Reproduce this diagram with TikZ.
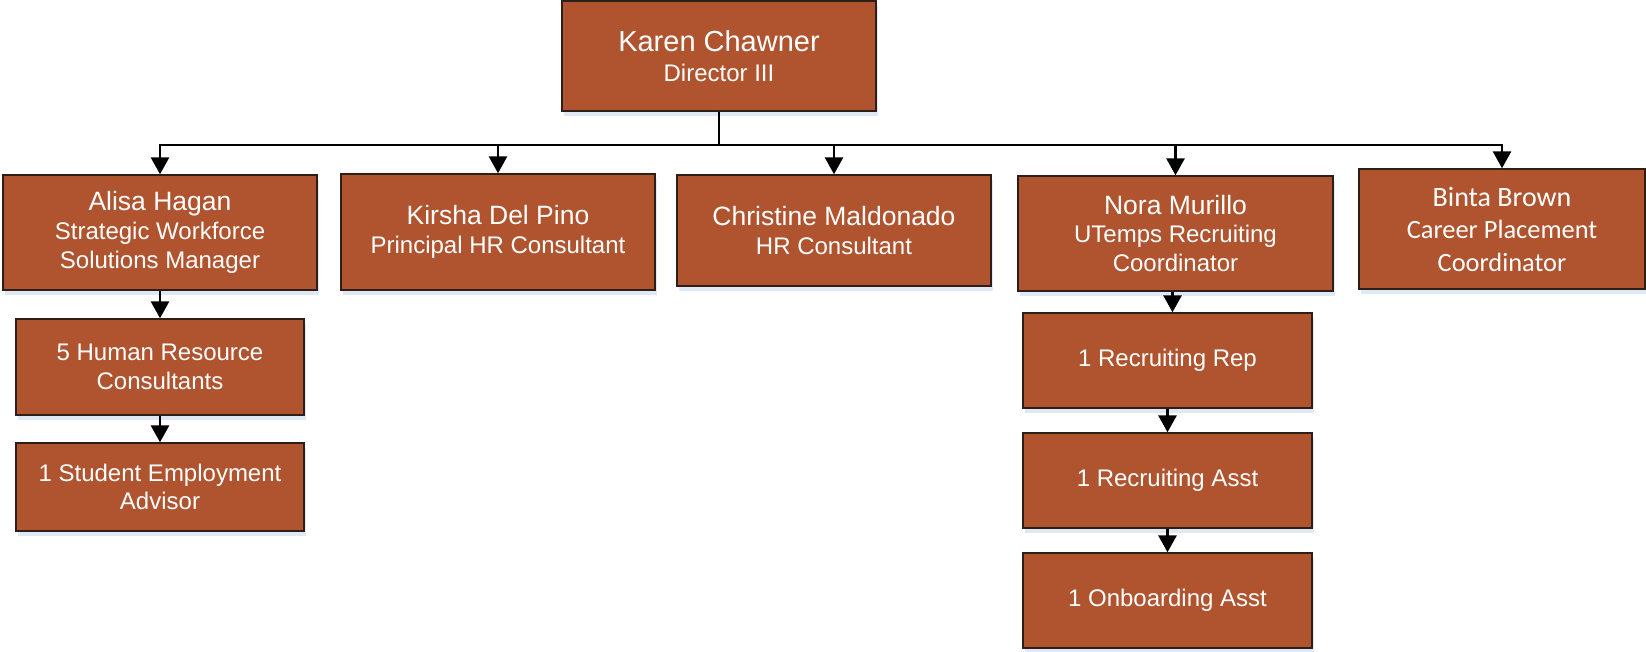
\documentclass[tikz,border=0pt]{standalone}
\usepackage{fontspec}
\setmainfont{Liberation Sans}
\newfontfamily\calibri{Carlito}
\usetikzlibrary{arrows.meta,shadows}
\definecolor{rust}{RGB}{176,84,48}
\definecolor{rustline}{RGB}{45,30,25}
\definecolor{glow}{RGB}{196,214,236}
\tikzset{
  box/.style={draw=rustline, line width=1.4pt, fill=rust, text=white, inner sep=0pt,
    align=center, font=\fontsize{24}{28.7}\selectfont,
    drop shadow={shadow xshift=2pt, shadow yshift=-5pt, fill=glow, opacity=0.55}},
  conn/.style={line width=2.9pt, black},
  arr/.style={conn, -{Triangle[length=17pt,width=18pt]}}
}
\newcommand{\bigname}[1]{{\fontsize{26.5}{29}\selectfont #1}}
\begin{document}
\begin{tikzpicture}[x=1pt,y=-1pt]
\useasboundingbox (0,0) rectangle (1646,651);
% top
\node[box, minimum width=314, minimum height=110, font=\fontsize{24}{30}\selectfont] (karen) at (719,56)
  {{\fontsize{29}{30}\selectfont Karen Chawner}\\Director III};
% second row
\node[box, minimum width=314, minimum height=115] (alisa) at (160,232.5)
  {\bigname{Alisa Hagan}\\Strategic Workforce\\Solutions Manager};
\node[box, minimum width=314, minimum height=116] (kirsha) at (498,232)
  {\bigname{Kirsha Del Pino}\\Principal HR Consultant};
\node[box, minimum width=314, minimum height=111] (christine) at (834,230.5)
  {\bigname{Christine Maldonado}\\HR Consultant};
\node[box, minimum width=315, minimum height=115] (nora) at (1175.5,233.5)
  {\bigname{Nora Murillo}\\UTemps Recruiting\\Coordinator};
\node[box, minimum width=286, minimum height=120, font=\calibri\fontsize{26.4}{32.5}\selectfont] (binta) at (1502,229)
  {{\fontsize{28}{32.5}\selectfont Binta Brown}\\Career Placement\\Coordinator};
% left column
\node[box, minimum width=288, minimum height=96] (hr) at (160,367)
  {5 Human Resource\\Consultants};
\node[box, minimum width=288, minimum height=88] (student) at (160,487)
  {1 Student Employment\\Advisor};
% right column
\node[box, minimum width=289, minimum height=95] (rep) at (1167.5,360.5)
  {1 Recruiting Rep};
\node[box, minimum width=289, minimum height=95] (asst) at (1167.5,480.5)
  {1 Recruiting Asst};
\node[box, minimum width=289, minimum height=95] (onb) at (1167.5,600.5)
  {1 Onboarding Asst};
% connectors
\coordinate (bus) at (719,145);
\draw[conn] (karen.south) -- (bus);
\draw[arr] (bus) -| (alisa.north);
\draw[arr] (bus) -| (kirsha.north);
\draw[arr] (bus) -| (christine.north);
\draw[arr] (bus) -| (nora.north);
\draw[arr] (bus) -| (binta.north);
\draw[arr] (alisa.south) -- (hr.north);
\draw[arr] (hr.south) -- (student.north);
\draw[arr] ([xshift=5pt]rep.north |- nora.south) -- ([xshift=5pt]rep.north);
\draw[arr] (rep.south) -- (asst.north);
\draw[arr] (asst.south) -- (onb.north);
\end{tikzpicture}
\end{document}
